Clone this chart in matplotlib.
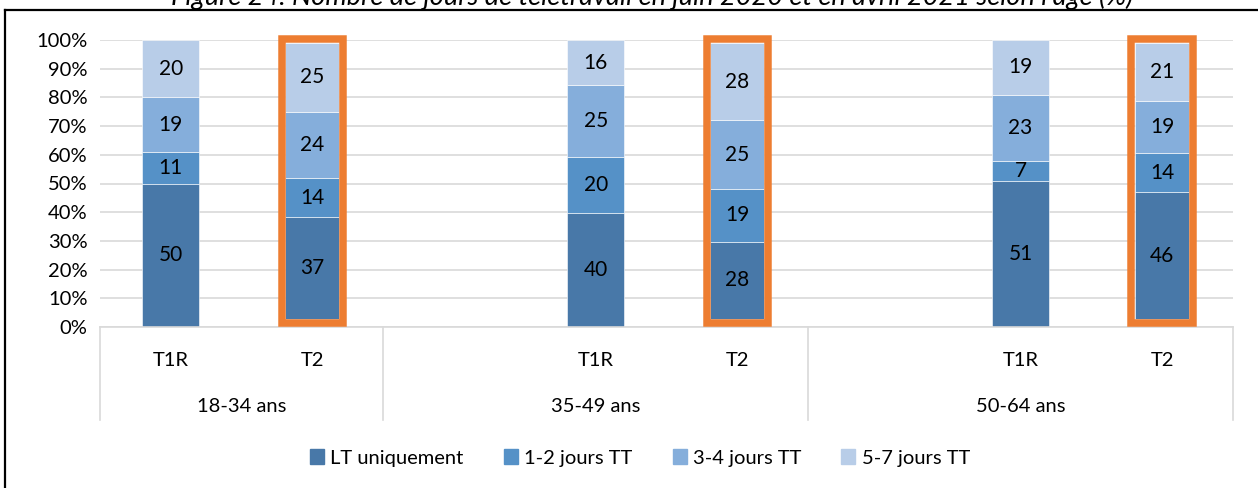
import matplotlib
matplotlib.use("Agg")
import matplotlib.pyplot as plt
from matplotlib.patches import Rectangle
from matplotlib.lines import Line2D
import numpy as np

plt.rcParams['font.family'] = ['Lato', 'DejaVu Sans']

title = "Figure 24. Nombre de jours de télétravail en juin 2020 et en avril 2021 selon l'âge (%)"
groups = ['18-34 ans', '35-49 ans', '50-64 ans']
periods = ['T1R', 'T2']
series = ['LT uniquement', '1-2 jours TT', '3-4 jours TT', '5-7 jours TT']
colors = ['#4878A8', '#5591C7', '#85AEDB', '#B8CDE8']
yticks = [0, 10, 20, 30, 40, 50, 60, 70, 80, 90, 100]

# values per series, per group
t1r_lt = [50, 40, 51]
t1r_12 = [11, 20, 7]
t1r_34 = [19, 25, 23]
t1r_57 = [20, 16, 19]
t2_lt = [37, 28, 46]
t2_12 = [14, 19, 14]
t2_34 = [24, 25, 19]
t2_57 = [25, 28, 21]

t1r = np.array([t1r_lt, t1r_12, t1r_34, t1r_57], dtype=float)
t2 = np.array([t2_lt, t2_12, t2_34, t2_57], dtype=float)

W, H = 1258, 488
fig = plt.figure(figsize=(W / 100, H / 100), dpi=100)

FS = 14.5

px_l, px_r, px_b, px_t = 100, 1233, 327, 40
ax = fig.add_axes([px_l / W, (H - px_b) / H, (px_r - px_l) / W, (px_b - px_t) / H])
ax.set_xlim(-0.5, 7.5)
ax.set_ylim(0, 100)
for s in ax.spines.values():
    s.set_visible(False)
ax.set_yticks(yticks)
ax.set_yticklabels([f"{v}%" for v in yticks], fontsize=FS)
ax.tick_params(axis='y', length=0, pad=9)
ax.set_xticks([])
ax.grid(axis='y', color='#D9D9D9', lw=1.2)
ax.set_axisbelow(True)

lbl_fs = 15
bar_w = 0.4
edge = dict(edgecolor='#FFFFFF', linewidth=0.4)

# T1R bars drawn in main axes
for g in range(len(groups)):
    x = 3 * g
    vals = t1r[:, g] / t1r[:, g].sum() * 100
    raw = t1r[:, g]
    bottom = 0
    for k in range(4):
        ax.bar(x, vals[k], bottom=bottom, width=bar_w, color=colors[k], **edge, zorder=2)
        ax.text(x, bottom + vals[k] / 2, f"{int(raw[k])}", ha='center', va='center',
                fontsize=lbl_fs, color='black', zorder=3)
        bottom += vals[k]

# T2 bars in framed insets (orange highlight frame)
orange = '#ED7D31'
for g in range(len(groups)):
    xc = 3 * g + 1
    ins = ax.inset_axes([xc - 0.217, 1.4, 0.434, 98.95], transform=ax.transData)
    ins.set_xlim(-0.569, 0.569)
    ins.set_ylim(-1.45, 101.45)
    ins.axis('off')
    vals = t2[:, g] / t2[:, g].sum() * 100
    raw = t2[:, g]
    bottom = 0
    for k in range(4):
        ins.bar(0, vals[k], bottom=bottom, width=1.0, color=colors[k], **edge)
        ins.text(0, bottom + vals[k] / 2, f"{int(raw[k])}", ha='center', va='center',
                 fontsize=lbl_fs, color='black')
        bottom += vals[k]
    ins.add_patch(Rectangle((0, 0), 1, 1, transform=ins.transAxes, fill=False,
                            ec=orange, lw=5.4, joinstyle='miter', clip_on=False))

# category axis (two levels)
xt = ax.get_xaxis_transform()
axis_col = '#D9D9D9'
ax.plot([-0.5, 7.5], [0, 0], color=axis_col, lw=1.2, transform=xt, clip_on=False)
y_low = -(420 - 327) / (327 - 40)
for sx in [-0.5, 1.5, 4.5, 7.5]:
    ax.plot([sx, sx], [0, y_low], color=axis_col, lw=1.2, transform=xt, clip_on=False)
y_per = -(360 - 327) / (327 - 40)
y_grp = -(406 - 327) / (327 - 40)
grp_centers = [0.5, 3, 6]
for g in range(len(groups)):
    for p, lab in enumerate(periods):
        ax.text(3 * g + p, y_per, lab, ha='center', va='center', fontsize=FS, transform=xt)
    ax.text(grp_centers[g], y_grp, groups[g], ha='center', va='center', fontsize=FS, transform=xt)

# legend
handles = [Rectangle((0, 0), 1, 1, color=c) for c in colors]
fig.legend(handles, series, loc='center', bbox_to_anchor=(640 / W, (H - 458) / H),
           ncol=4, frameon=False, fontsize=FS, handlelength=0.7, handleheight=0.7,
           handletextpad=0.3, columnspacing=2.0)

# title (cut off at top, as in the source) and outer frame
fig.text(652 / W, (H - 5) / H, title, ha='center', va='baseline', fontsize=19.5,
         style='italic', color='black')
fig.add_artist(Line2D([5 / W, 1], [(H - 10) / H, (H - 10) / H], color='black', lw=1.6))
fig.add_artist(Line2D([5 / W, 5 / W], [0, (H - 10) / H], color='black', lw=1.6))

fig.savefig('out.png', dpi=100)
